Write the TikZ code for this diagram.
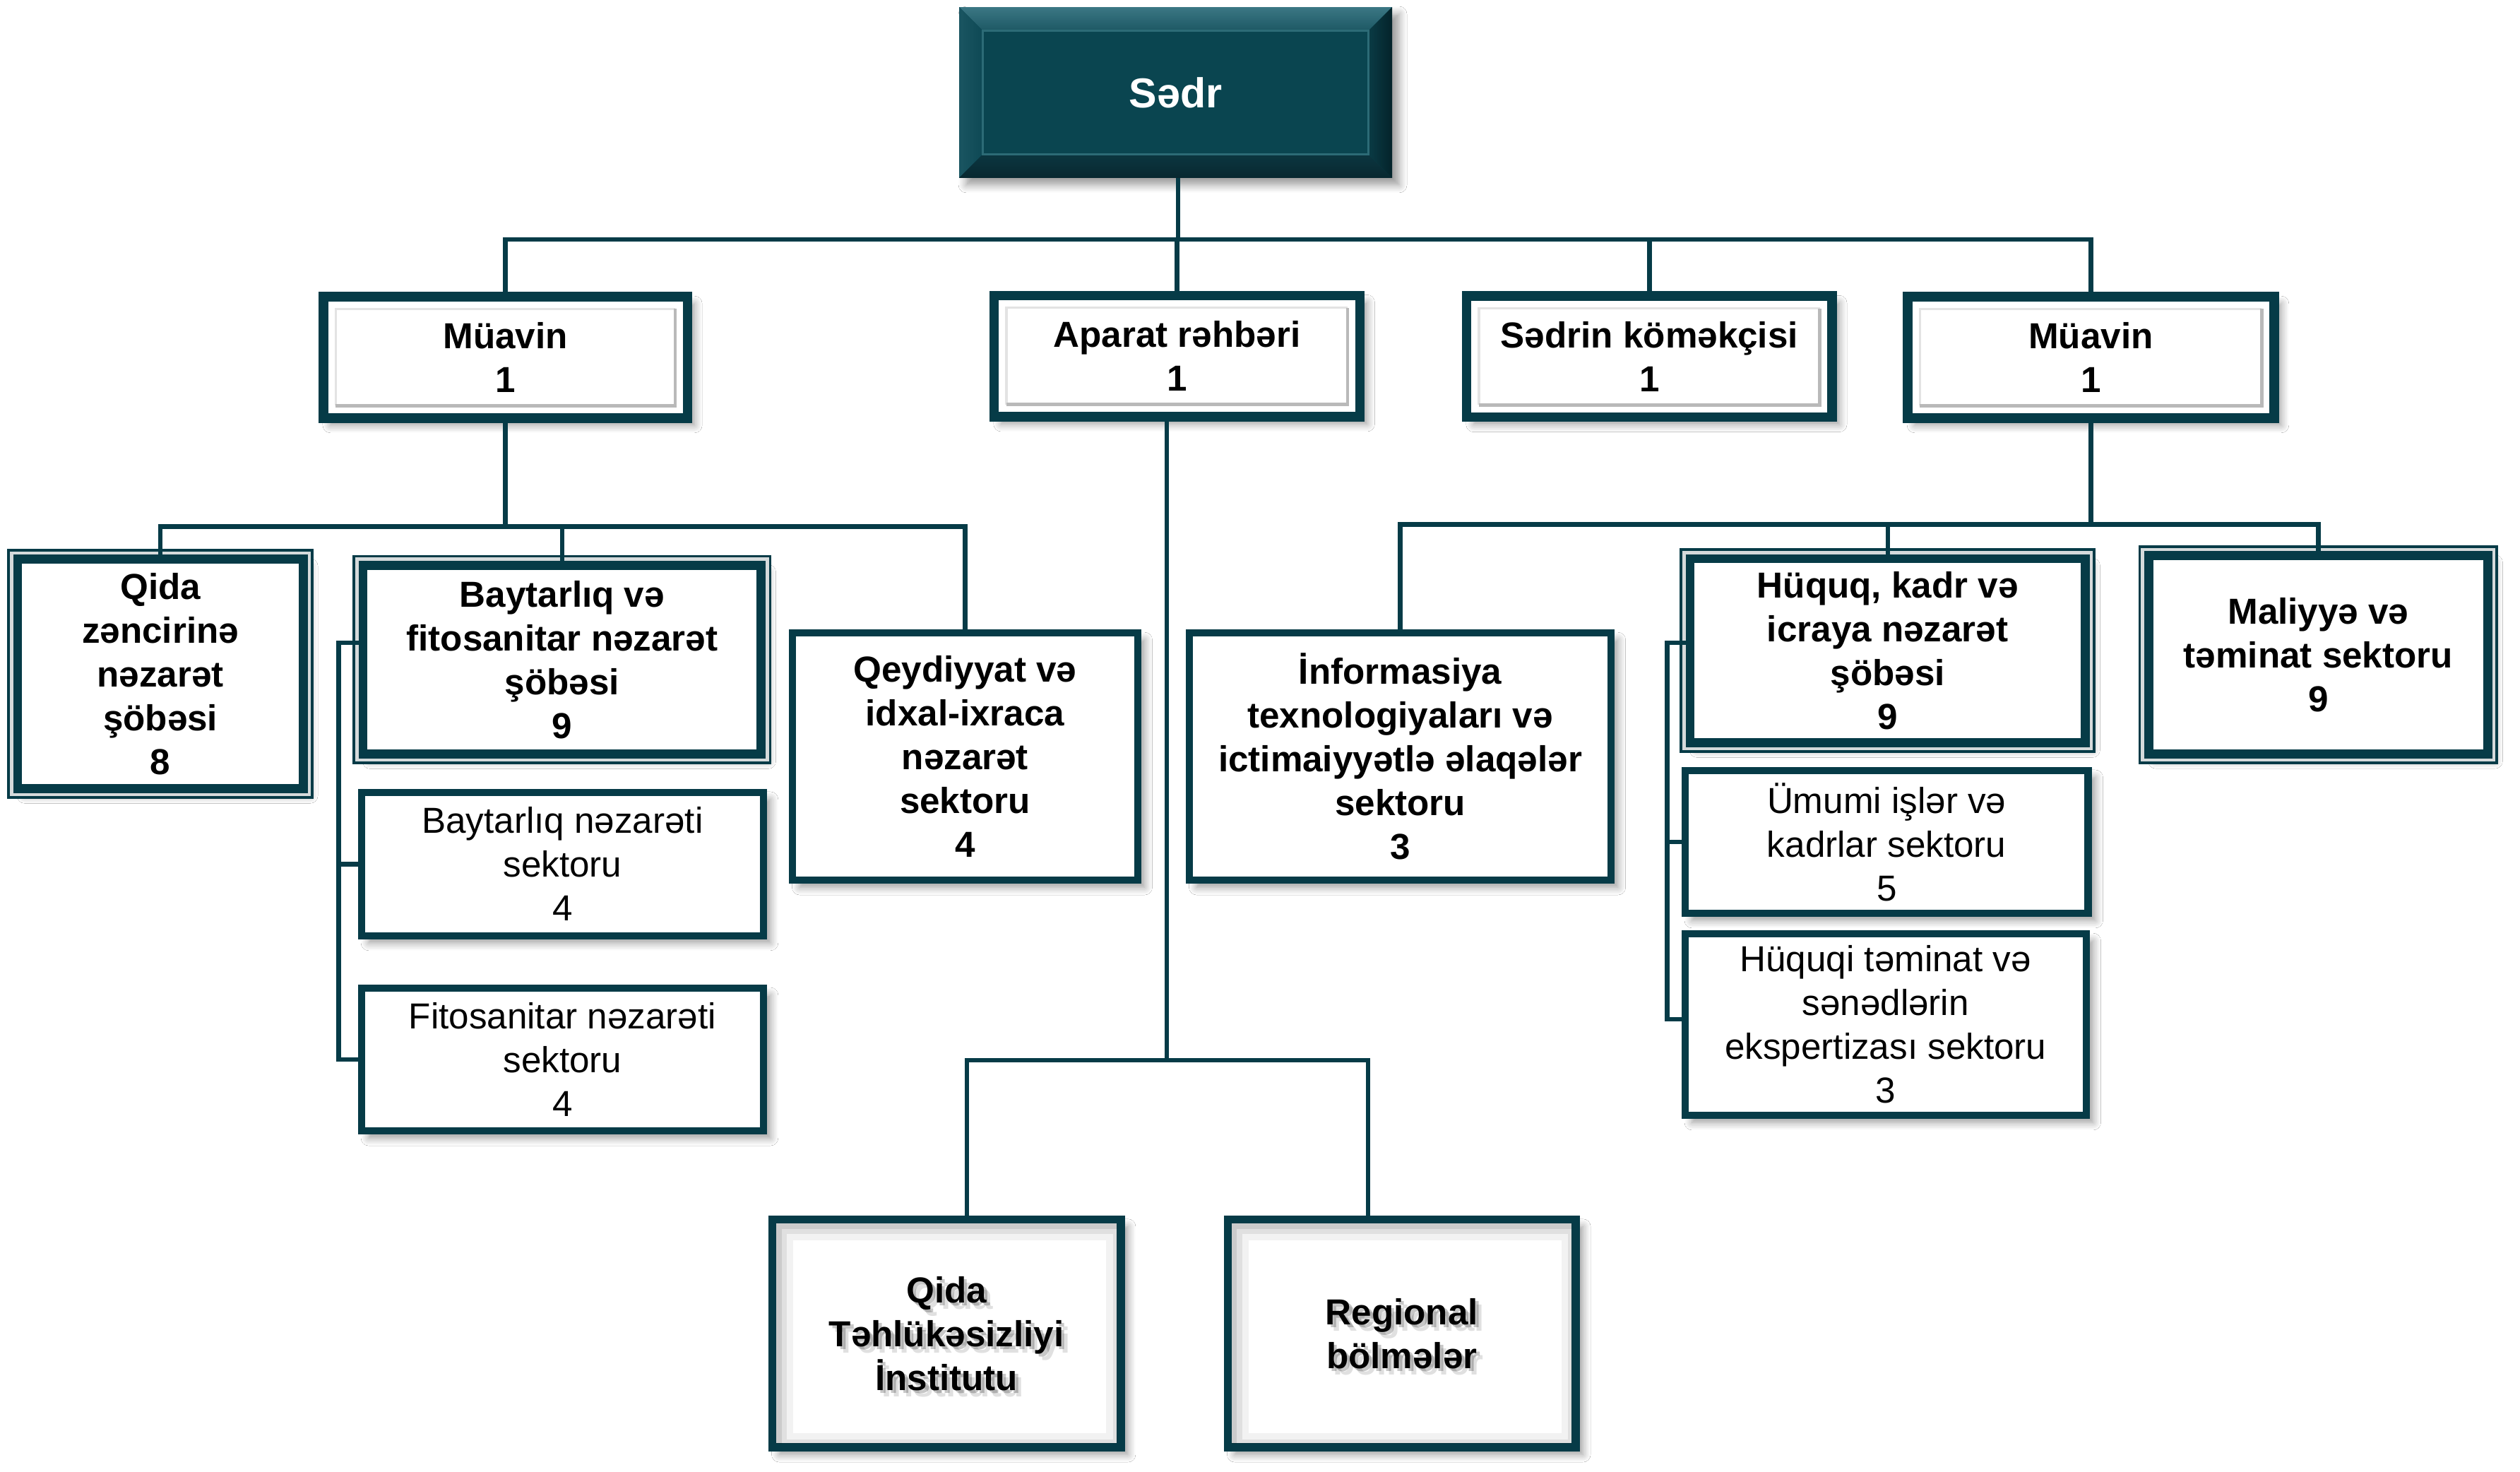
\documentclass[tikz,border=0pt]{standalone}
\usepackage{fontspec}
\setmainfont{Liberation Sans}
\usetikzlibrary{calc,shadows,shadows.blur}
\definecolor{dk}{HTML}{063B47}
\definecolor{face}{HTML}{0A4550}
\definecolor{bandc}{HTML}{D5DADB}
\definecolor{bevTa}{HTML}{3B7784}
\definecolor{bevTb}{HTML}{1D5864}
\definecolor{bevLa}{HTML}{1A5561}
\definecolor{bevLb}{HTML}{0E4955}
\definecolor{bevBa}{HTML}{0B3640}
\definecolor{bevBb}{HTML}{082830}
\definecolor{bevRa}{HTML}{0A3B45}
\definecolor{bevRb}{HTML}{04232A}
\definecolor{inl}{HTML}{2C6B76}
\tikzset{
  every node/.style={inner sep=0pt, outer sep=0pt},
  spanbox/.style n args={4}{at={($(#1,#2)!0.5!(#3,#4)$)}, minimum width={(#3-#1)*0.25mm}, minimum height={(#4-#2)*0.25mm}},
  bt/.style={font=\bfseries\fontsize{16}{19.4}\selectfont, align=center, text=black},
  rt/.style={font=\fontsize{16}{19.4}\selectfont, align=center, text=black},
  shad/.style={blur shadow={shadow xshift=1.1mm, shadow yshift=-1.1mm, shadow blur radius=1.2mm, shadow blur steps=8}},
  sectbox/.style={shad, draw=dk, line width=1.125mm, fill=white},
  botbox/.style={shad, draw=dk, line width=1.25mm, fill=white},
  rowbox/.style={shad, draw=dk, line width=1.475mm, fill=white},
  sobebox/.style={shad, preaction={draw=dk, line width=3.2mm}, preaction={draw=bandc, line width=2.4mm}, draw=dk, line width=1.4mm, fill=white},
  conn/.style={draw=dk, line width=0.7mm},
}
\newcommand\rowinner[1]{%
  \draw[gray!22, line width=0.35mm] ($(#1.south west)+(7.65,-7.65)$) |- ($(#1.north east)+(-7.65,7.65)$);
  \draw[gray!55, line width=0.5mm] ($(#1.south west)+(7.65,-7.65)$) -| ($(#1.north east)+(-7.65,7.65)$);
}
\newcommand\innershadow[1]{%
  \begin{scope}
    \clip ($(#1.north west)+(2.5,2.5)$) rectangle ($(#1.south east)+(-2.5,-2.5)$);
    \foreach \w/\o in {6mm/0.05,4mm/0.07,2.4mm/0.09}{%
      \draw[black, opacity=\o, line width=\w] ($(#1.north west)+(1,1)$) rectangle ($(#1.south east)+(3,3)$);}
  \end{scope}
}
\begin{document}
\begin{tikzpicture}[x=0.25mm, y=-0.25mm]
\useasboundingbox[fill=white] (0,0) rectangle (1568,915.83);

% ---- Sedr ----
\node[spanbox={596.8}{4.4}{866.2}{110.7}, fill=face, shad] (sedr) {};
\path (sedr.north west) coordinate (s1) (sedr.north east) coordinate (s2)
      (sedr.south east) coordinate (s3) (sedr.south west) coordinate (s4);
\coordinate (t1) at ($(s1)+(14.6,14.6)$);
\coordinate (t2) at ($(s2)+(-14.6,14.6)$);
\coordinate (t3) at ($(s3)+(-14.6,-14.6)$);
\coordinate (t4) at ($(s4)+(14.6,-14.6)$);
\shade[top color=bevTa, bottom color=bevTb] (s1) -- (s2) -- (t2) -- (t1) -- cycle;
\shade[left color=bevLa, right color=bevLb] (s1) -- (t1) -- (t4) -- (s4) -- cycle;
\shade[top color=bevBa, bottom color=bevBb] (s4) -- (t4) -- (t3) -- (s3) -- cycle;
\shade[left color=bevRa, right color=bevRb] (s2) -- (s3) -- (t3) -- (t2) -- cycle;
\draw[inl, line width=0.3mm] (t1) rectangle (t3);
\node[text=white, font=\bfseries\fontsize{18.5}{22}\selectfont] (sedrt) at (sedr.center) {Sədr};

% ---- row 2 ----
\node[rowbox, bt, spanbox={201.2}{184.6}{427.7}{260.1}] (muavL) {Müavin\\1};
\node[rowbox, bt, spanbox={618.6}{183.8}{846.2}{259.3}] (aparat) {Aparat rəhbəri\\1};
\node[rowbox, bt, spanbox={912.6}{184.2}{1140}{259.6}] (sedrin) {Sədrin köməkçisi\\1};
\node[rowbox, bt, spanbox={1187}{184.6}{1415}{260.1}] (muavR) {Müavin\\1};
\rowinner{muavL}\rowinner{aparat}\rowinner{sedrin}\rowinner{muavR}

% ---- sobe boxes ----
\node[sobebox, bt, spanbox={11}{347.9}{188.6}{490.6}] (qzn) {Qida\\zəncirinə\\nəzarət\\şöbəsi\\8};
\node[sobebox, bt, spanbox={225.9}{351.7}{473.6}{469.1}] (bayS) {Baytarlıq və\\fitosanitar nəzarət\\şöbəsi\\9};
\node[sobebox, bt, spanbox={1051.6}{347.6}{1297.5}{462.1}] (huq) {Hüquq, kadr və\\icraya nəzarət\\şöbəsi\\9};
\node[sobebox, bt, spanbox={1337}{345.6}{1548}{469}] (mal) {Maliyyə və\\təminat sektoru\\9};

% ---- sector boxes ----
\node[sectbox, rt, spanbox={225}{493}{475}{582.2}] (bayN) {Baytarlıq nəzarəti\\sektoru\\4};
\node[sectbox, rt, spanbox={225}{614.8}{475}{703.6}] (fito) {Fitosanitar nəzarəti\\sektoru\\4};
\node[sectbox, bt, spanbox={493.2}{393.8}{707.8}{547.6}] (qeyd) {Qeydiyyat və\\idxal-ixraca\\nəzarət\\sektoru\\4};
\node[sectbox, bt, spanbox={740.2}{393.8}{1002.3}{547.6}] (info) {İnformasiya\\texnologiyaları və\\ictimaiyyətlə əlaqələr\\sektoru\\3};
\node[sectbox, rt, spanbox={1048.5}{479.4}{1299.3}{568.2}] (umumi) {Ümumi işlər və\\kadrlar sektoru\\5};
\node[sectbox, rt, spanbox={1048.5}{581}{1298}{693.9}] (hutem) {Hüquqi təminat və\\sənədlərin\\ekspertizası sektoru\\3};

% ---- bottom boxes ----
\node[botbox, spanbox={480.5}{758.8}{697.4}{900.5}] (qti) {};
\node[botbox, spanbox={763.9}{758.8}{980.5}{900.5}] (reg) {};
\innershadow{qti}\innershadow{reg}
\node[bt, text=black, opacity=0.22] (qtis1) at ($(qti.center)+(2,2)$) {Qida\\Təhlükəsizliyi\\İnstitutu};
\node[bt, text=black, opacity=0.12] (qtis2) at ($(qti.center)+(4,4)$) {Qida\\Təhlükəsizliyi\\İnstitutu};
\node[bt] (qtit) at (qti.center) {Qida\\Təhlükəsizliyi\\İnstitutu};
\node[bt, text=black, opacity=0.22] (regs1) at ($(reg.center)+(2,2)$) {Regional\\bölmələr};
\node[bt, text=black, opacity=0.12] (regs2) at ($(reg.center)+(4,4)$) {Regional\\bölmələr};
\node[bt] (regt) at (reg.center) {Regional\\bölmələr};

% ---- connectors ----
\coordinate (j0) at (733,149);
\draw[conn] (sedr.south -| j0) -- (j0);
\draw[conn] (muavL.north) |- (j0) -| (muavR.north);
\draw[conn] (aparat.north) -- (aparat.north |- j0);
\draw[conn] (sedrin.north) -- (sedrin.north |- j0);

\coordinate (j1) at (314.4,327.6);
\draw[conn] (muavL.south) -- (muavL.south |- j1);
\draw[conn] (qzn.north) |- (j1) -| (qeyd.north);
\draw[conn] (bayS.north) -- (bayS.north |- j1);

\coordinate (j2) at (726,659.7);
\coordinate (j3) at (601.5,659.7);
\coordinate (j4) at (851.2,659.7);
\draw[conn] (j2 |- aparat.south) -- (j2);
\draw[conn] (j3 |- qti.north) -- (j3) -- (j4) -- (j4 |- reg.north);

\coordinate (j5) at (1302.3,326.3);
\draw[conn] (muavR.south) -- (muavR.south |- j5);
\draw[conn] (info.north) |- (j5) -| (mal.north);
\draw[conn] (huq.north) -- (huq.north |- j5);

\coordinate (bl) at (210.7,400);
\draw[conn] (bl -| bayS.west) -- (bl) |- (fito.west);
\draw[conn] (bl |- bayN.west) -- (bayN.west);

\coordinate (br) at (1037.4,400);
\coordinate (br3) at (1037.4,634);
\draw[conn] (br -| huq.west) -- (br) -- (br3) -- (br3 -| hutem.west);
\draw[conn] (br |- umumi.west) -- (umumi.west);
\end{tikzpicture}
\end{document}
